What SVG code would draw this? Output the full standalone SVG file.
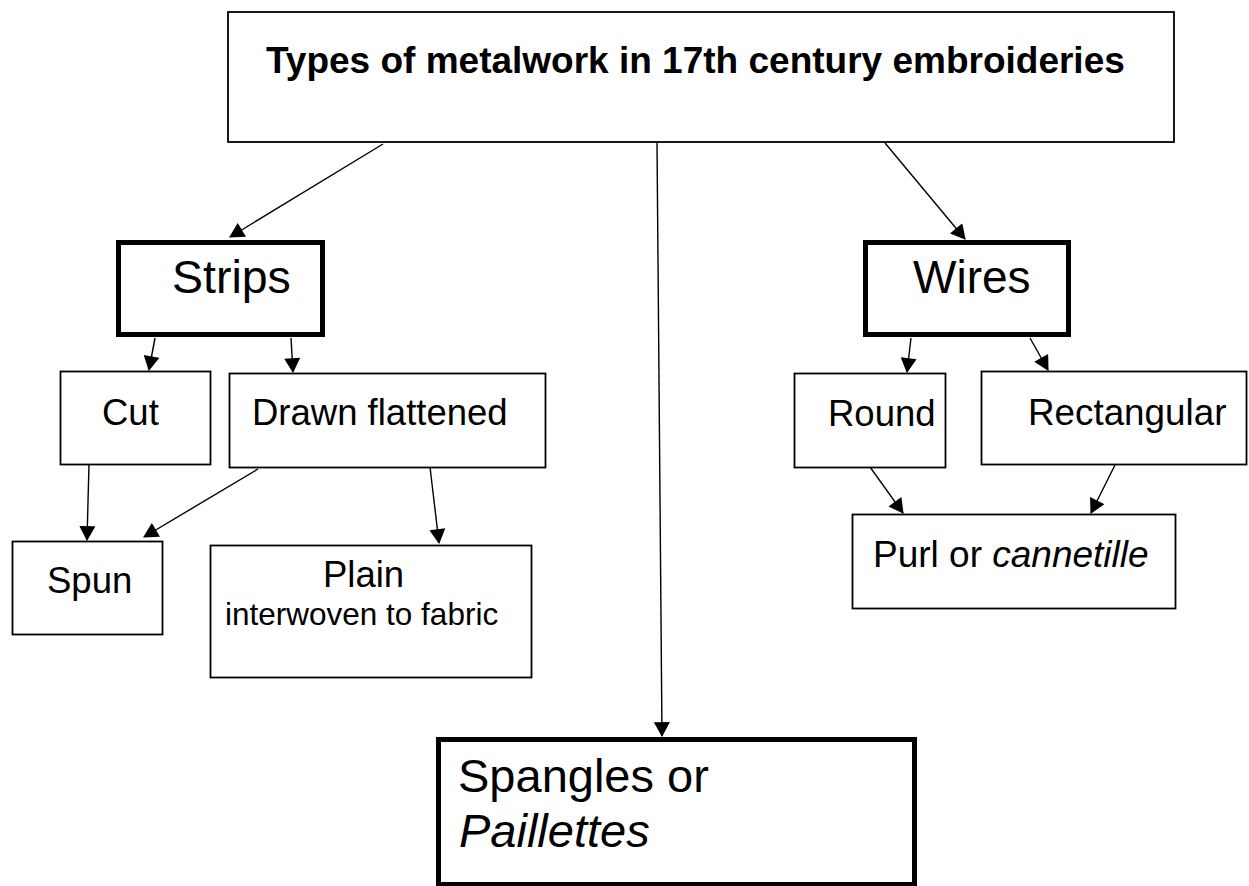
<svg xmlns="http://www.w3.org/2000/svg" width="1249" height="886" viewBox="0 0 1249 886">
<style>
.box{fill:#fff;stroke:#000;stroke-width:1.8}
.bold{fill:#fff;stroke:#000;stroke-width:5}
.t{font-family:"Liberation Sans",Arial,sans-serif;fill:#000}
.conn line{stroke:#000;stroke-width:1.4;marker-end:url(#ah)}
</style>
<defs>
<marker id="ah" markerUnits="userSpaceOnUse" markerWidth="16" markerHeight="16" viewBox="0 0 14 15" refX="13" refY="7.5" orient="auto">
<path d="M0,0 L14,7.5 L0,15 z" fill="#000"/>
</marker>
</defs>
<rect width="1249" height="886" fill="#fff"/>
<g class="conn">
<line x1="383" y1="144" x2="230" y2="237"/>
<line x1="657" y1="142" x2="662" y2="736"/>
<line x1="885" y1="143" x2="965" y2="239"/>
<line x1="155" y1="338" x2="149" y2="370"/>
<line x1="291" y1="338" x2="293" y2="372"/>
<line x1="911" y1="338" x2="907" y2="372"/>
<line x1="1030" y1="338" x2="1048" y2="370"/>
<line x1="89" y1="464" x2="87" y2="540"/>
<line x1="258" y1="469" x2="144" y2="537"/>
<line x1="430" y1="467" x2="439" y2="543"/>
<line x1="870" y1="467" x2="903" y2="513"/>
<line x1="1115" y1="465" x2="1091" y2="513"/>
</g>
<g id="title">
<rect class="box" x="228" y="12" width="946" height="130"/>
<text class="t" x="266" y="73" font-size="37" font-weight="bold">Types of metalwork in 17th century embroideries</text>
</g>
<g id="strips">
<rect class="bold" x="118.5" y="242.5" width="204" height="92"/>
<text class="t" x="172" y="293" font-size="46.5">Strips</text>
</g>
<g id="wires">
<rect class="bold" x="865.5" y="242.5" width="203" height="92"/>
<text class="t" x="913" y="293" font-size="46">Wires</text>
</g>
<g id="cut">
<rect class="box" x="60.5" y="371.5" width="150" height="93"/>
<text class="t" x="102" y="425" font-size="36.5">Cut</text>
</g>
<g id="drawn">
<rect class="box" x="229.5" y="373.5" width="316" height="94"/>
<text class="t" x="252" y="425" font-size="36.5">Drawn flattened</text>
</g>
<g id="round">
<rect class="box" x="794.5" y="373.5" width="151" height="94"/>
<text class="t" x="828" y="426" font-size="36.5">Round</text>
</g>
<g id="rectangular">
<rect class="box" x="981.5" y="371.5" width="265" height="93"/>
<text class="t" x="1028" y="425" font-size="36.8">Rectangular</text>
</g>
<g id="spun">
<rect class="box" x="12.5" y="541.5" width="150" height="93"/>
<text class="t" x="47" y="593" font-size="36.5">Spun</text>
</g>
<g id="plain">
<rect class="box" x="210.5" y="545.5" width="321" height="132"/>
<text class="t" x="323" y="587" font-size="36.5">Plain</text>
<text class="t" x="225" y="625" font-size="31.5">interwoven to fabric</text>
</g>
<g id="purl">
<rect class="box" x="852.5" y="514.5" width="323" height="94"/>
<text class="t" x="873" y="567" font-size="37">Purl or <tspan font-style="italic">cannetille</tspan></text>
</g>
<g id="spangles">
<rect class="bold" x="438.5" y="739.5" width="476" height="145"/>
<text class="t" x="458" y="792" font-size="47">Spangles or</text>
<text class="t" x="459" y="847" font-size="47" font-style="italic">Paillettes</text>
</g>
</svg>
